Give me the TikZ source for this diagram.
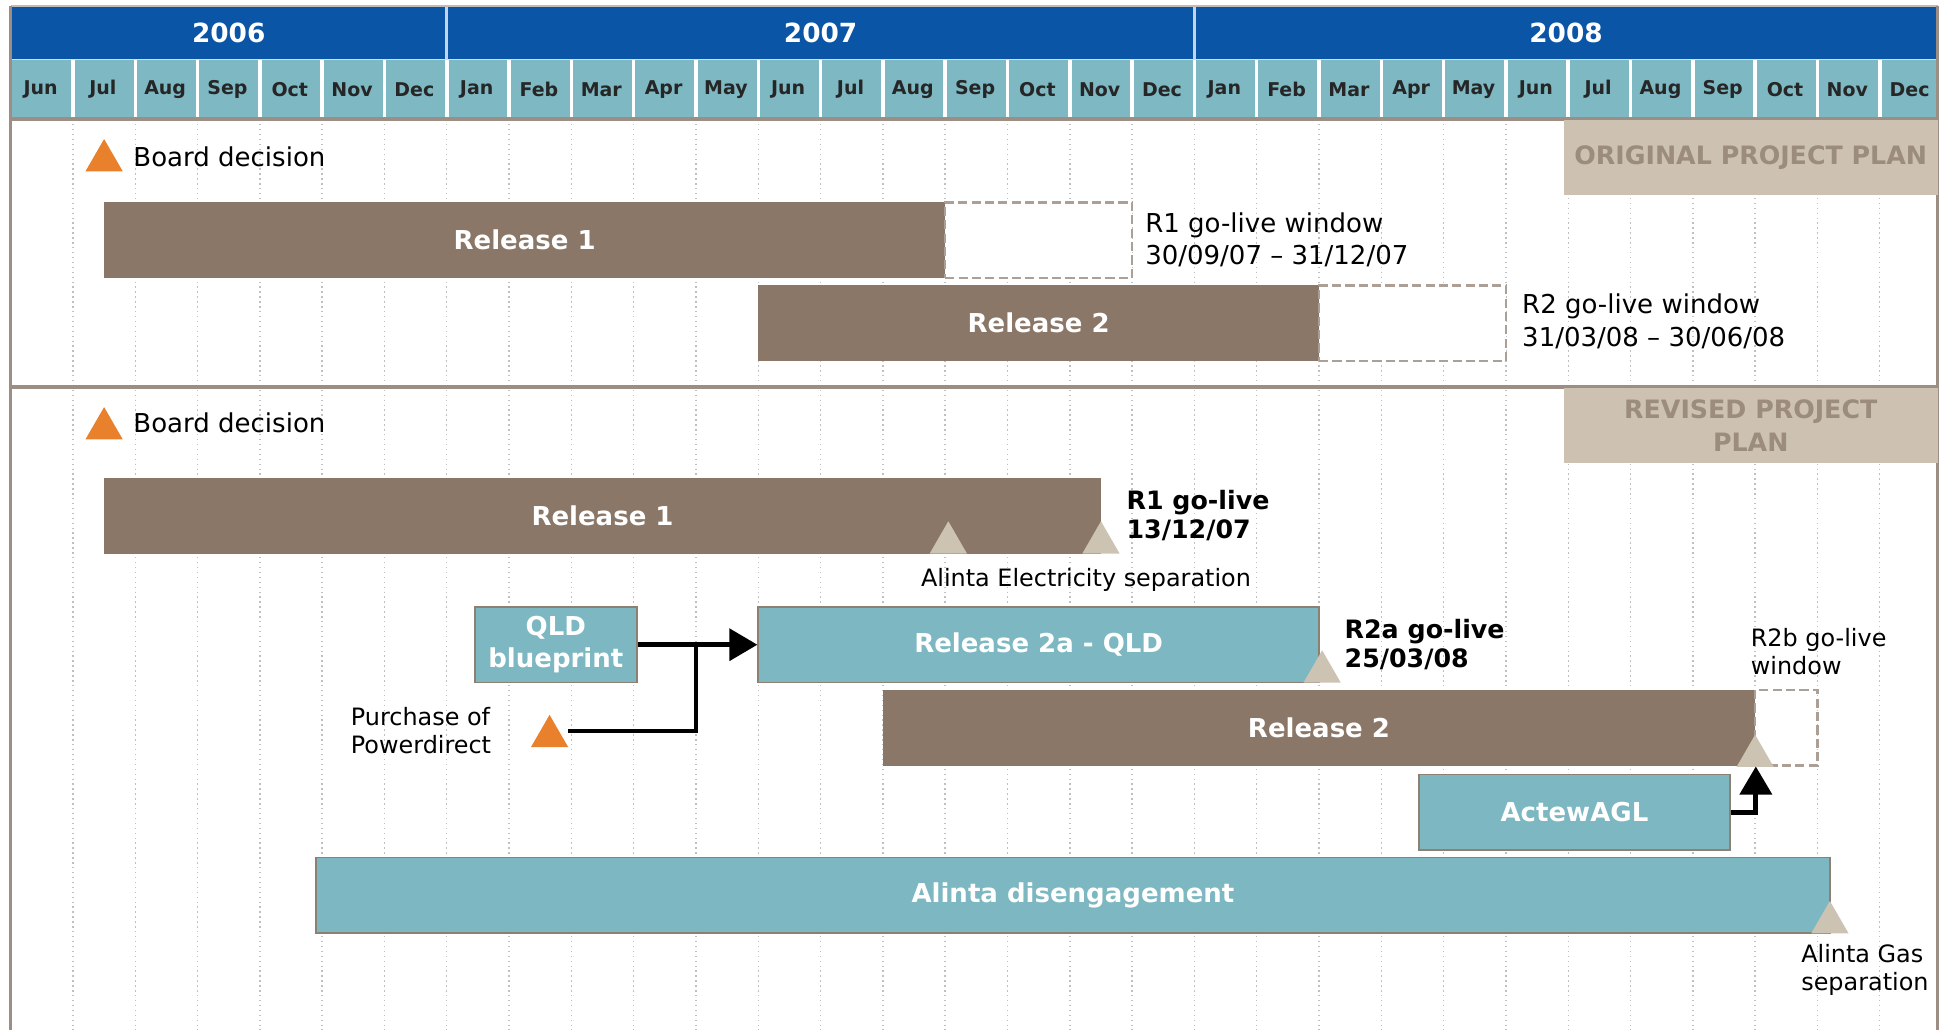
\documentclass[tikz,border=0pt]{standalone}
\usepackage{fontspec}
\setmainfont{DejaVu Sans}
\usetikzlibrary{fit,shapes.geometric,arrows.meta}

\definecolor{yearblue}{RGB}{10,85,165}
\definecolor{monthteal}{RGB}{125,184,195}
\definecolor{barbrown}{RGB}{138,119,103}
\definecolor{barteal}{RGB}{125,184,194}
\definecolor{milebeige}{RGB}{205,195,179}
\definecolor{planbeige}{RGB}{205,194,178}
\definecolor{plantext}{RGB}{155,140,125}
\definecolor{boardorange}{RGB}{232,128,44}
\definecolor{framegrey}{RGB}{156,142,132}

\begin{document}
\begin{tikzpicture}[
x=6.23mm, y=-0.1241mm,   % one unit across = one month, one unit down = one pixel row
barbox/.style={inner sep=0pt},
barlabel/.style={
        text=white,
        align=center,
        inner sep=0pt,
        font=\fontsize{7.4}{9.2}\selectfont\bfseries,
    },
brownbar/.style={barbox, fill=barbrown},
tealbar/.style={barbox, fill=barteal, draw=gray!80!brown, line width=0.5pt},
golive/.style={
        draw=framegrey!85,
        fill=white,
        dash pattern=on 2.6pt off 1.2pt,
        line width=0.7pt,
        inner sep=0pt,
    },
planbox/.style={barbox, fill=planbeige},
planlabel/.style={barlabel, text=plantext, font=\fontsize{7.2}{9.2}\selectfont\bfseries},
milestone/.style={
        regular polygon,
        regular polygon sides=3,
        minimum size=4.3mm,
        inner sep=0pt,
        outer sep=0pt,
        anchor=south,
        fill=milebeige,
    },
decision/.style={milestone, fill=boardorange},
note/.style={font=\fontsize{7.4}{9.2}\selectfont, align=left, inner sep=0pt},
smallnote/.style={font=\fontsize{6.8}{8.1}\selectfont, align=left, inner sep=0pt},
keydate/.style={font=\fontsize{7.2}{8.1}\selectfont\bfseries, align=left, inner sep=0pt},
yearlabel/.style={text=white, font=\fontsize{7.5}{9}\selectfont\bfseries},
monthlabel/.style={text=black!85, font=\fontsize{5.4}{6.5}\selectfont\bfseries},
gridline/.style={gray!50, densely dotted, line width=0.4pt},
link/.style={line width=1.4pt, -{Triangle[length=8pt,width=9pt]}},
]
\useasboundingbox (-0.171,0) rectangle (31.064,830);

% month grid behind the bars
\foreach \m in {1,...,30}
    \draw[gridline] (\m,96) -- (\m,830);

% header: years and months
\fill[yearblue] (0,5) rectangle (30.93,48);
\fill[monthteal] (0,48) rectangle (30.93,96);
\foreach \m in {1,...,30}
    \draw[white, line width=1pt] (\m,48) -- (\m,96);
\draw[white!75!yearblue, line width=0.8pt] (7,5) -- (7,48) (19,5) -- (19,48);
\draw[white!60!monthteal, line width=0.5pt] (0,48) -- (30.93,48);

\node[yearlabel] (y2006) at (3.5,26.5) {2006};
\node[yearlabel] (y2007) at (13,26.5) {2007};
\node[yearlabel] (y2008) at (24.965,26.5) {2008};

\foreach \mname [count=\i from 0] in {Jun,Jul,Aug,Sep,Oct,Nov,Dec,
        Jan,Feb,Mar,Apr,May,Jun,Jul,Aug,Sep,Oct,Nov,Dec,
        Jan,Feb,Mar,Apr,May,Jun,Jul,Aug,Sep,Oct,Nov,Dec}
    \node[monthlabel] (mon\i) at (\i+0.48,72) {\mname};

% frame and the line between the two plans
\draw[framegrey!60, line width=0.6pt] (0,5) -- (30.93,5);
\draw[framegrey, line width=1pt] (0,830) -- (0,5);
\draw[framegrey, line width=1pt] (30.93,5) -- (30.93,830);
\draw[framegrey, line width=1pt] (0,96) -- (30.93,96);
\draw[framegrey, line width=1.2pt] (0,312) -- (30.93,312);

% original plan
\node[planbox, fit={(24.93,97) (30.93,157)},
      label={[planlabel]center:ORIGINAL PROJECT PLAN}] (origplan) {};

\node[decision] (board1) at (1.5,138) {};
\node[note, anchor=west] (board1txt) at (1.96,126) {Board decision};

\node[brownbar, fit={(1.5,163) (15,224)}, label={[barlabel]center:Release 1}] (orel1) {};
\node[golive, fit={(15,163) (18,224)}] (orel1win) {};
\node[note, anchor=west] (orel1txt) at (18.2,193) {R1 go-live window\\30/09/07 – 31/12/07};

\node[brownbar, fit={(12,230) (21,291)}, label={[barlabel]center:Release 2}] (orel2) {};
\node[golive, fit={(21,230) (24,291)}] (orel2win) {};
\node[note, anchor=west] (orel2txt) at (24.25,259) {R2 go-live window\\31/03/08 – 30/06/08};

% revised plan
\node[planbox, fit={(24.93,313) (30.93,373)},
      label={[planlabel]center:REVISED PROJECT\\PLAN}] (revplan) {};

\node[decision] (board2) at (1.5,354) {};
\node[note, anchor=west] (board2txt) at (1.96,341) {Board decision};

\node[brownbar, fit={(1.5,385) (17.5,446)}, label={[barlabel]center:Release 1}] (rrel1) {};
\node[milestone] (elecsep) at (15.05,446) {};
\node[milestone] (r1live) at (17.5,446) {};
\node[keydate, anchor=west] (r1txt) at (17.9,415.5) {R1 go-live\\13/12/07};
\node[smallnote] (electxt) at (17.26,467) {Alinta Electricity separation};

\node[tealbar, fit={(7.45,489) (10.05,550)}, label={[barlabel]center:QLD\\blueprint}] (qld) {};
\node[tealbar, fit={(12,489) (21,550)}, label={[barlabel]center:Release 2a - QLD}] (rel2a) {};
\node[milestone] (r2alive) at (21.05,550) {};
\node[keydate, anchor=west] (r2atxt) at (21.4,519.5) {R2a go-live\\25/03/08};

\node[decision] (powerdirect) at (8.65,602) {};
\node[smallnote, anchor=west] (pdtxt) at (5.45,588.5) {Purchase of\\Powerdirect};
\coordinate (qldjoin) at (11,519.5);
\draw[link] (qld) -- (rel2a);
\draw[line width=1.4pt] ([xshift=0.95mm]powerdirect.side 3) -| (qldjoin);

\node[brownbar, fit={(14,556) (28,617)}, label={[barlabel]center:Release 2}] (rrel2) {};
\node[golive, fit={(28,556) (29,617)}] (rrel2win) {};
\node[milestone] (r2blive) at (28,618) {};
\node[smallnote, anchor=west] (r2btxt) at (27.92,525) {R2b go-live\\window};

\node[tealbar, fit={(22.6,624) (27.6,685)}, label={[barlabel]center:ActewAGL}] (actew) {};
\draw[link] (actew.east) -| (rrel2.south east);

\node[tealbar, fit={(4.9,691) (29.2,752)}, label={[barlabel]center:Alinta disengagement}] (alinta) {};
\node[milestone] (gassep) at (29.2,752) {};
\node[smallnote, anchor=west] (gastxt) at (28.73,781.5) {Alinta Gas\\separation};
\end{tikzpicture}
\end{document}
